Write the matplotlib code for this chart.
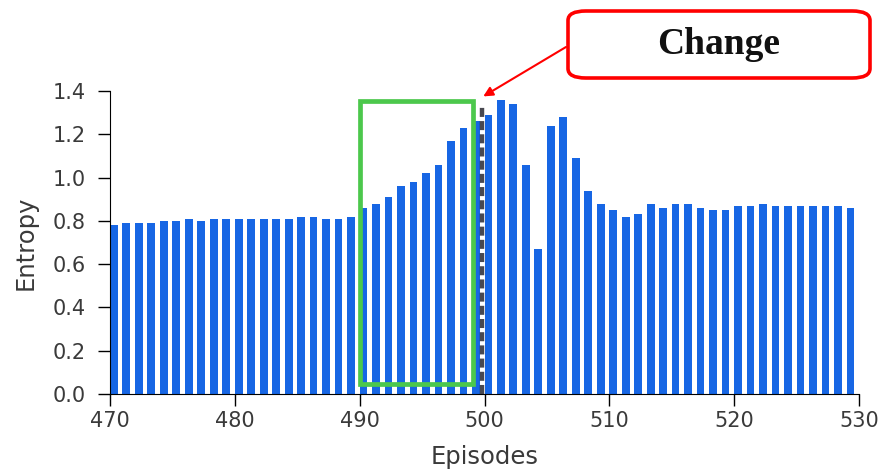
import numpy as np
import matplotlib
matplotlib.use('Agg')
import matplotlib.pyplot as plt
from matplotlib.patches import Rectangle, FancyBboxPatch

# entropy per episode
episodes = list(range(470, 530))
entropy = [0.78, 0.79, 0.79, 0.79, 0.80, 0.80, 0.81, 0.80, 0.81, 0.81,
           0.81, 0.81, 0.81, 0.81, 0.81, 0.82, 0.82, 0.81, 0.81, 0.82,
           0.86, 0.88, 0.91, 0.96, 0.98, 1.02, 1.06, 1.17, 1.23, 1.26,
           1.29, 1.36, 1.34, 1.06, 0.67, 1.24, 1.28, 1.09, 0.94, 0.88,
           0.85, 0.82, 0.83, 0.88, 0.86, 0.88, 0.88, 0.86, 0.85, 0.85,
           0.87, 0.87, 0.88, 0.87, 0.87, 0.87, 0.87, 0.87, 0.87, 0.86]
xticks = [470, 480, 490, 500, 510, 520, 530]
yticks = [0.0, 0.2, 0.4, 0.6, 0.8, 1.0, 1.2, 1.4]
change_ep = 500
box_eps = (490, 499)

plt.rcParams['lines.scale_dashes'] = False
txtc = '#3a3a3a'
fig = plt.figure(figsize=(8.88, 4.73), dpi=100)
ax = fig.add_axes([110/888, 1-394/473, 749/888, 303/473])

ax.bar(episodes, entropy, width=0.62, align='edge', color='#1766e4', zorder=2)

# change point marker (sits in the gap before the bar of the change episode)
ax.plot([change_ep-0.18, change_ep-0.18], [0, 1.34], color='#1a1a24', lw=3.2,
        alpha=0.8, dashes=(6.5, 3.0), zorder=3)

# highlight window before the change
ax.add_patch(Rectangle((box_eps[0], 0.045), box_eps[1]+0.05-box_eps[0], 1.31,
                       fill=False, ec='#4cc84c', lw=3.4, zorder=4))

ax.set_xlim(470, 530)
ax.set_ylim(0, 1.4)
ax.set_xticks(xticks)
ax.set_yticks(yticks)
ax.set_yticklabels(['%.1f' % v for v in yticks])
ax.spines['top'].set_visible(False)
ax.spines['right'].set_visible(False)
ax.tick_params(length=8.5, width=1, labelsize=15, labelcolor=txtc)
ax.tick_params(axis='x', pad=4)
ax.tick_params(axis='y', pad=9)
ax.set_xlabel('Episodes', fontsize=17.5, color=txtc, labelpad=10)
ax.set_ylabel('Entropy', fontsize=17.5, color=txtc, labelpad=11)

# call-out box
box = FancyBboxPatch((568/888, 1-78/473), 302/888, 67/473,
                     boxstyle='round,pad=0,rounding_size=0.02',
                     transform=fig.transFigure, fc='white', ec='#ff0000', lw=2.6)
fig.patches.append(box)
fig.text(719/888, 1-45/473, 'Change', ha='center', va='center',
         fontsize=27, fontweight='bold', family='Liberation Serif', color='#111111')
ax.annotate('', xy=(change_ep-0.1, 1.375), xycoords='data',
            xytext=(566/888, 1-47/473), textcoords='figure fraction',
            arrowprops=dict(arrowstyle='-|>', color='#ff0000', lw=1.5,
                            mutation_scale=14, shrinkA=0, shrinkB=0))

fig.savefig('out.png', dpi=100)
